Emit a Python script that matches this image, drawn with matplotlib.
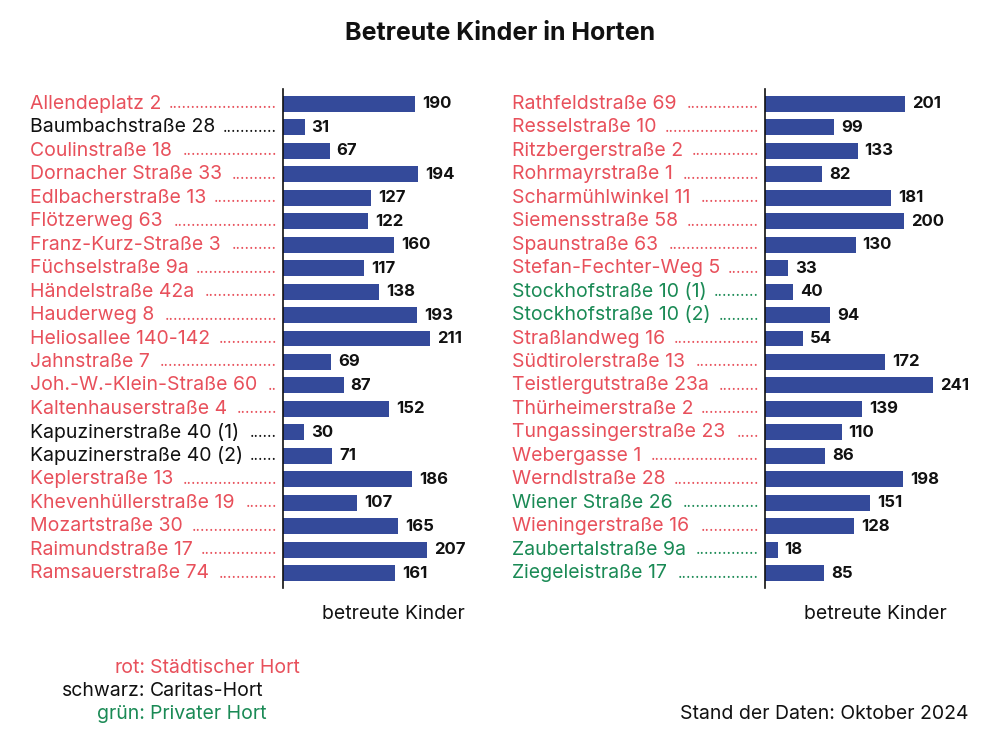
import matplotlib.pyplot as plt
import matplotlib.transforms as mtransforms

plt.rcParams['font.family'] = ['Inter', 'DejaVu Sans']

# Farben
ROT = '#e8505b'
SCHWARZ = '#111111'
GRUEN = '#1a8a55'
BALKEN = '#344a9a'

# Daten linke Spalte
links_namen = ["Allendeplatz 2", "Baumbachstraße 28", "Coulinstraße 18", "Dornacher Straße 33",
               "Edlbacherstraße 13", "Flötzerweg 63", "Franz-Kurz-Straße 3", "Füchselstraße 9a",
               "Händelstraße 42a", "Hauderweg 8", "Heliosallee 140-142", "Jahnstraße 7",
               "Joh.-W.-Klein-Straße 60", "Kaltenhauserstraße 4", "Kapuzinerstraße 40 (1)",
               "Kapuzinerstraße 40 (2)", "Keplerstraße 13", "Khevenhüllerstraße 19",
               "Mozartstraße 30", "Raimundstraße 17", "Ramsauerstraße 74"]
links_werte = [190, 31, 67, 194, 127, 122, 160, 117, 138, 193, 211, 69, 87, 152, 30, 71,
               186, 107, 165, 207, 161]
links_typ = ['r', 's', 'r', 'r', 'r', 'r', 'r', 'r', 'r', 'r', 'r', 'r', 'r', 'r', 's', 's',
             'r', 'r', 'r', 'r', 'r']

# Daten rechte Spalte
rechts_namen = ["Rathfeldstraße 69", "Resselstraße 10", "Ritzbergerstraße 2", "Rohrmayrstraße 1",
                "Scharmühlwinkel 11", "Siemensstraße 58", "Spaunstraße 63", "Stefan-Fechter-Weg 5",
                "Stockhofstraße 10 (1)", "Stockhofstraße 10 (2)", "Straßlandweg 16",
                "Südtirolerstraße 13", "Teistlergutstraße 23a", "Thürheimerstraße 2",
                "Tungassingerstraße 23", "Webergasse 1", "Werndlstraße 28", "Wiener Straße 26",
                "Wieningerstraße 16", "Zaubertalstraße 9a", "Ziegeleistraße 17"]
rechts_werte = [201, 99, 133, 82, 181, 200, 130, 33, 40, 94, 54, 172, 241, 139, 110, 86, 198,
                151, 128, 18, 85]
rechts_typ = ['r', 'r', 'r', 'r', 'r', 'r', 'r', 'r', 'g', 'g', 'r', 'r', 'r', 'r', 'r', 'r',
              'r', 'g', 'r', 'g', 'g']

farbe = {'r': ROT, 's': SCHWARZ, 'g': GRUEN}

W, H = 1000, 748
fig = plt.figure(figsize=(W / 100, H / 100), dpi=100)

ax_b = 220 / W
ax_top = 1 - 89 / H
ax_bot = 1 - 588 / H
ax_l = fig.add_axes([283 / W, ax_bot, ax_b, ax_top - ax_bot])
ax_r = fig.add_axes([765 / W, ax_bot, ax_b, ax_top - ax_bot])

FS = 14
panels = [(ax_l, links_namen, links_werte, links_typ, 30, 277),
          (ax_r, rechts_namen, rechts_werte, rechts_typ, 512, 759)]

renderer = fig.canvas.get_renderer()
probe = fig.text(0, 0, '.' * 20, fontsize=11)
dot_w = probe.get_window_extent(renderer).width / 20
probe.remove()

for ax, namen, werte, typ, x_text, x_dots in panels:
    pos = list(range(len(namen)))
    ax.barh(pos, werte, height=0.68, color=BALKEN)
    ax.set_xlim(0, 316)
    ax.set_ylim(len(namen) - 1 + 0.62, -0.62)
    for s in ['top', 'right', 'bottom']:
        ax.spines[s].set_visible(False)
    ax.spines['left'].set_linewidth(1.2)
    ax.spines['left'].set_color('#111111')
    ax.set_xticks([])
    ax.set_yticks([])
    ax.set_xlabel('betreute Kinder', fontsize=FS, labelpad=12, color='#111111')
    for p, v in zip(pos, werte):
        ax.annotate(str(v), (v, p), xytext=(5, 0), textcoords='offset points',
                    va='center', ha='left', fontsize=12, fontweight='bold', color='#111111')

    trans = mtransforms.blended_transform_factory(fig.transFigure, ax.transData)
    for p, n, t in zip(pos, namen, typ):
        c = farbe[t]
        txt = fig.text(x_text / W, p, n, transform=trans, ha='left', va='center',
                       fontsize=FS, color=c)
        ende = txt.get_window_extent(renderer).x1
        n_dots = int((x_dots - ende - 7) / dot_w)
        if n_dots > 0:
            fig.text(x_dots / W, p, '.' * n_dots, transform=trans, ha='right', va='center',
                     fontsize=11, color=c)

fig.text(0.5, 1 - 33 / H, 'Betreute Kinder in Horten', ha='center', va='center',
         fontsize=18, fontweight='bold', color='#111111')

# Legende
legende = [('rot:', 'Städtischer Hort', ROT), ('schwarz:', 'Caritas-Hort', SCHWARZ),
           ('grün:', 'Privater Hort', GRUEN)]
for i, (k, v, c) in enumerate(legende):
    y = 1 - (668 + 23 * i) / H
    fig.text(145 / W, y, k, ha='right', va='center', fontsize=FS, color=c)
    fig.text(150 / W, y, v, ha='left', va='center', fontsize=FS, color=c)

fig.text(968 / W, 1 - 714 / H, 'Stand der Daten: Oktober 2024', ha='right', va='center',
         fontsize=FS, color='#111111')

fig.savefig('out.png', dpi=100)
